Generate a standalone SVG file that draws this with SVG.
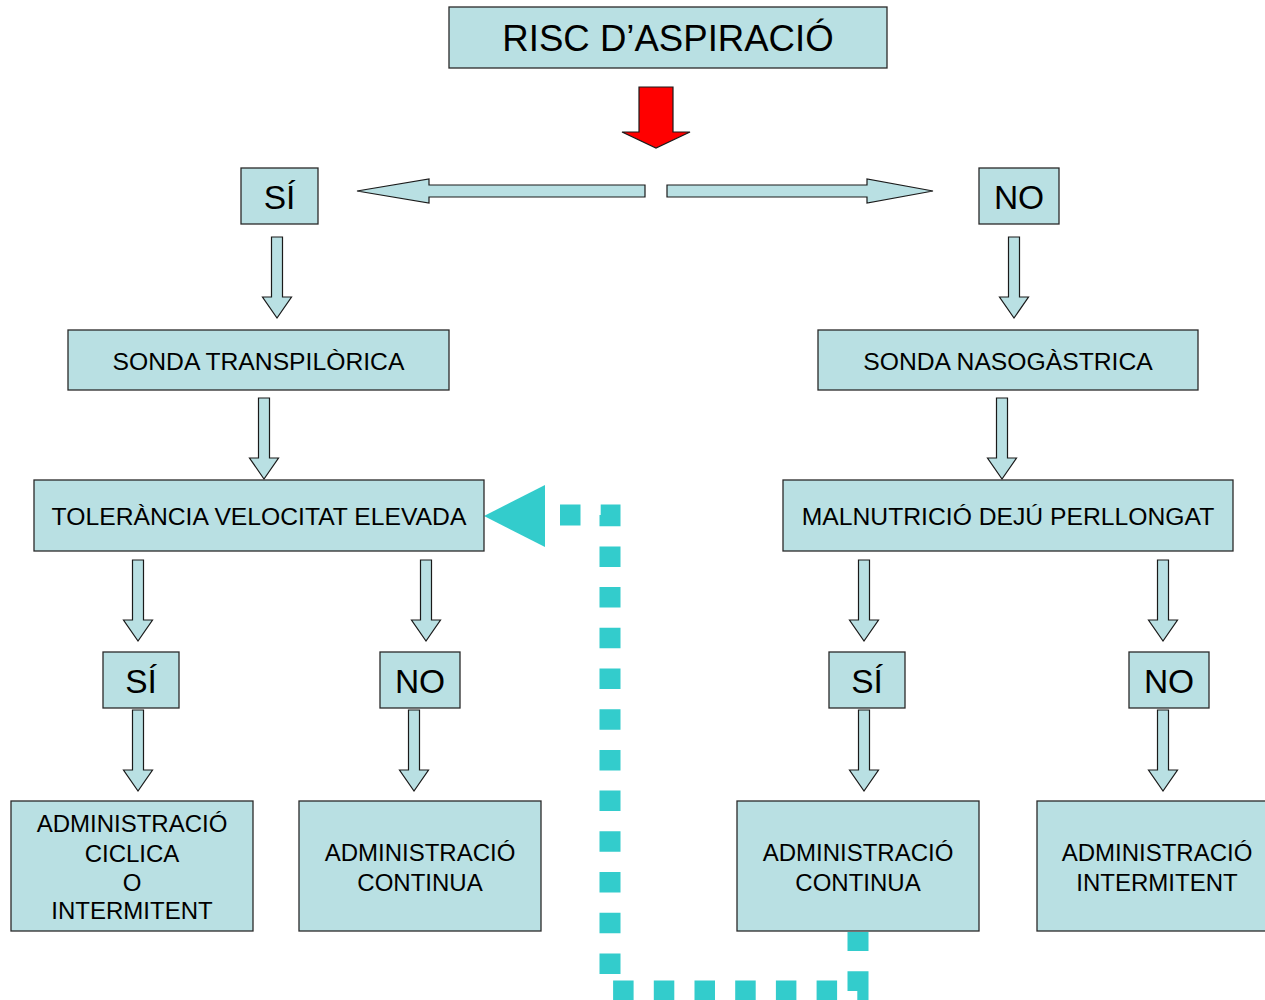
<svg xmlns="http://www.w3.org/2000/svg" xmlns:xlink="http://www.w3.org/1999/xlink" width="1265" height="1000" viewBox="0 0 1265 1000">
<style>
.box{fill:#B9E0E3;stroke:#2a2a2a;stroke-width:1.3}
.arr{fill:#B9E0E3;stroke:#1a1a1a;stroke-width:1.2;stroke-linejoin:miter}
text{font-family:"Liberation Sans",Arial,sans-serif;fill:#000;text-anchor:middle}
.t36{font-size:36.6px}.t32{font-size:33.5px}.t24{font-size:24.7px}.t21{font-size:24px}
</style>
<defs>
<polygon id="darr" class="arr" points="-5.5,0 5.5,0 5.5,60 14.5,60 0,81 -14.5,60 -5.5,60"/>
</defs>
<rect width="1265" height="1000" fill="#fff"/>
<g id="connectors">
<polygon points="639,87 673,87 673,132 690,132 656,148 622,132 639,132" fill="#FF0000" stroke="#1a1a1a" stroke-width="1.2"/>
<polygon class="arr" points="645,185 645,197 429,197 429,203 357,191 429,179 429,185"/>
<polygon class="arr" points="667,185 667,197 867,197 867,203 933,191 867,179 867,185"/>
<use xlink:href="#darr" x="277" y="237"/>
<use xlink:href="#darr" x="1014" y="237"/>
<use xlink:href="#darr" x="264" y="398"/>
<use xlink:href="#darr" x="1002" y="398"/>
<use xlink:href="#darr" x="138" y="560"/>
<use xlink:href="#darr" x="426" y="560"/>
<use xlink:href="#darr" x="864" y="560"/>
<use xlink:href="#darr" x="1163" y="560"/>
<use xlink:href="#darr" x="138" y="710"/>
<use xlink:href="#darr" x="414" y="710"/>
<use xlink:href="#darr" x="864" y="710"/>
<use xlink:href="#darr" x="1163" y="710"/>
<path d="M545,515 H610 V991 H858 V932" fill="none" stroke="#33CCCC" stroke-width="21" stroke-dasharray="20.5 20.2" stroke-dashoffset="25.7" stroke-linecap="butt" stroke-linejoin="miter"/>
<polygon points="484,516 545,485 545,547" fill="#33CCCC"/>
</g>
<g id="n-title"><rect class="box" x="449" y="7" width="438" height="61"/><text class="t36" x="668" y="51">RISC D’ASPIRACIÓ</text></g>
<g id="n-si1"><rect class="box" x="241" y="168" width="77" height="56"/><text class="t32" x="279.5" y="209">SÍ</text></g>
<g id="n-no1"><rect class="box" x="979" y="168" width="80" height="56"/><text class="t32" x="1019" y="209">NO</text></g>
<g id="n-transp"><rect class="box" x="68" y="330" width="381" height="60"/><text class="t24" x="258.5" y="369.5">SONDA TRANSPILÒRICA</text></g>
<g id="n-naso"><rect class="box" x="818" y="330" width="380" height="60"/><text class="t24" x="1008" y="369.5">SONDA NASOGÀSTRICA</text></g>
<g id="n-toler"><rect class="box" x="34" y="480" width="450" height="71"/><text class="t24" x="259" y="525">TOLERÀNCIA VELOCITAT ELEVADA</text></g>
<g id="n-malnut"><rect class="box" x="783" y="480" width="450" height="71"/><text class="t24" x="1008" y="525">MALNUTRICIÓ DEJÚ PERLLONGAT</text></g>
<g id="n-si2"><rect class="box" x="103" y="652" width="76" height="56"/><text class="t32" x="141" y="692.5">SÍ</text></g>
<g id="n-no2"><rect class="box" x="380" y="652" width="80" height="56"/><text class="t32" x="420" y="692.5">NO</text></g>
<g id="n-si3"><rect class="box" x="829" y="652" width="76" height="56"/><text class="t32" x="867" y="692.5">SÍ</text></g>
<g id="n-no3"><rect class="box" x="1129" y="652" width="80" height="56"/><text class="t32" x="1169" y="692.5">NO</text></g>
<g id="n-adm1"><rect class="box" x="11" y="801" width="242" height="130"/><text class="t21" x="132"><tspan x="132" y="832">ADMINISTRACIÓ</tspan><tspan x="132" y="862">CICLICA</tspan><tspan x="132" y="891">O</tspan><tspan x="132" y="919">INTERMITENT</tspan></text></g>
<g id="n-adm2"><rect class="box" x="299" y="801" width="242" height="130"/><text class="t21" x="420"><tspan x="420" y="861">ADMINISTRACIÓ</tspan><tspan x="420" y="891">CONTINUA</tspan></text></g>
<g id="n-adm3"><rect class="box" x="737" y="801" width="242" height="130"/><text class="t21" x="858"><tspan x="858" y="861">ADMINISTRACIÓ</tspan><tspan x="858" y="891">CONTINUA</tspan></text></g>
<g id="n-adm4"><rect class="box" x="1037" y="801" width="242" height="130"/><text class="t21" x="1157"><tspan x="1157" y="861">ADMINISTRACIÓ</tspan><tspan x="1157" y="891">INTERMITENT</tspan></text></g>
</svg>
